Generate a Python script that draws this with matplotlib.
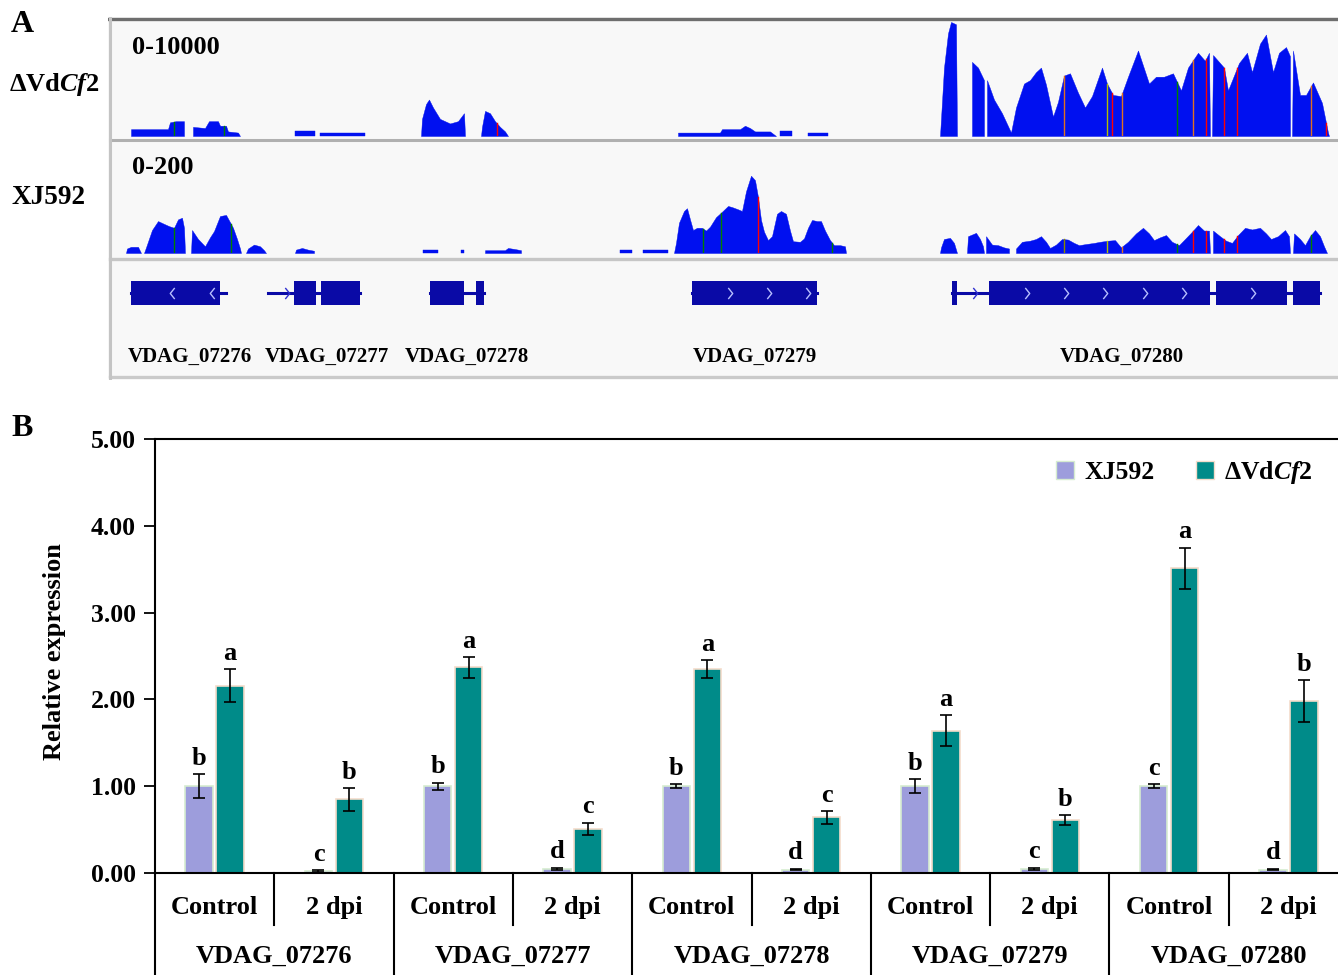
import numpy as np
import matplotlib
matplotlib.use("Agg")
import matplotlib.pyplot as plt
from matplotlib.patches import Rectangle, Patch

plt.rcParams['font.family'] = ['Liberation Serif', 'DejaVu Serif']
plt.rcParams['font.weight'] = 'bold'
plt.rcParams['mathtext.fontset'] = 'custom'
plt.rcParams['mathtext.rm'] = 'Liberation Serif:bold'
plt.rcParams['mathtext.it'] = 'Liberation Serif:italic:bold'
plt.rcParams['mathtext.bf'] = 'Liberation Serif:bold'

# =====================================================
# DATA - panel A (coverage, track units along the locus)
# =====================================================

# dVdCf2 coverage, scale 0-10000 : segments of (position, depth)
cov_dvcf2 = [
    [(131, 0), (131, 600), (168, 600), (170, 1200), (176, 1300), (184, 1300), (184, 0)],
    [(193, 0), (193, 800), (205, 700), (209, 1300), (218, 1300), (220, 900), (226, 900), (228, 400), (238, 300), (240, 0)],
    [(295, 0), (295, 400), (315, 400), (315, 0)],
    [(320, 0), (320, 300), (365, 300), (365, 0)],
    [(421, 0), (422, 1500), (426, 2800), (429, 3200), (433, 2500), (440, 1500), (450, 1100), (458, 1300), (464, 2000), (465, 0)],
    [(481, 0), (482, 800), (485, 2200), (490, 2000), (495, 1300), (500, 800), (505, 400), (508, 0)],
    [(678, 0), (678, 300), (720, 300), (722, 600), (740, 600), (745, 900), (750, 700), (755, 400), (770, 400), (776, 0)],
    [(780, 0), (780, 400), (792, 400), (792, 0)],
    [(808, 0), (808, 300), (828, 300), (828, 0)],
    [(940, 0), (944, 6000), (948, 9000), (951, 10000), (956, 9800), (957, 0)],
    [(972, 0), (972, 6500), (978, 6000), (984, 4900), (984, 0)],
    [(987, 0), (987, 4900), (994, 3200), (1002, 2000), (1011, 300), (1016, 2500), (1024, 4600), (1030, 4900),
     (1036, 5600), (1041, 6000), (1046, 4500), (1053, 1700), (1058, 3000), (1064, 5300), (1070, 5500),
     (1078, 3800), (1085, 2500), (1092, 3500), (1102, 6000), (1107, 4600), (1113, 3600), (1121, 3500),
     (1128, 5200), (1138, 7500), (1149, 4600), (1156, 5200), (1164, 5200), (1173, 5500), (1181, 4000),
     (1188, 6000), (1198, 7300), (1205, 6600), (1209, 7300), (1210, 0)],
    [(1212, 0), (1213, 7100), (1224, 6000), (1228, 4000), (1239, 6400), (1247, 7300), (1252, 5600),
     (1260, 8100), (1266, 8900), (1273, 5600), (1279, 7300), (1286, 7800), (1290, 7000), (1290, 0)],
    [(1292, 0), (1293, 7500), (1300, 3600), (1306, 3600), (1313, 4700), (1322, 2900), (1328, 300), (1329, 0)],
]

# XJ592 coverage, scale 0-200
cov_xj592 = [
    [(126, 0), (127, 8), (131, 11), (138, 11), (141, 0)],
    [(144, 0), (146, 10), (152, 41), (158, 57), (164, 52), (169, 48), (174, 45), (178, 60), (182, 63), (184, 45), (185, 0)],
    [(191, 0), (192, 41), (198, 25), (205, 12), (210, 28), (214, 39), (220, 66), (226, 68), (230, 55),
     (233, 45), (237, 25), (240, 8), (241, 0)],
    [(246, 0), (248, 8), (254, 15), (260, 12), (264, 5), (266, 0)],
    [(295, 0), (296, 6), (302, 9), (308, 6), (314, 4), (314, 0)],
    [(423, 0), (423, 5), (438, 5), (438, 0)],
    [(461, 0), (461, 5), (464, 5), (464, 0)],
    [(485, 0), (485, 5), (505, 5), (508, 9), (515, 7), (521, 5), (521, 0)],
    [(620, 0), (620, 5), (632, 5), (632, 0)],
    [(643, 0), (643, 5), (668, 5), (668, 0)],
    [(674, 0), (676, 18), (679, 54), (684, 75), (687, 80), (690, 60), (693, 41), (697, 45), (702, 45),
     (706, 40), (710, 47), (716, 64), (721, 72), (728, 84), (732, 82), (738, 78), (742, 75), (746, 110),
     (751, 138), (755, 130), (758, 100), (761, 59), (764, 38), (768, 23), (772, 30), (777, 70), (781, 75),
     (786, 70), (790, 40), (793, 21), (800, 20), (804, 26), (808, 45), (812, 59), (817, 57), (821, 57),
     (825, 40), (830, 23), (834, 14), (840, 14), (845, 12), (846, 0)],
    [(940, 0), (941, 10), (944, 25), (950, 27), (954, 18), (957, 0)],
    [(967, 0), (968, 30), (976, 36), (980, 25), (983, 12), (984, 0)],
    [(986, 0), (986, 30), (992, 15), (998, 14), (1004, 10), (1009, 8), (1009, 0)],
    [(1016, 0), (1016, 8), (1022, 20), (1030, 22), (1036, 25), (1041, 30), (1046, 20), (1050, 9), (1056, 15),
     (1062, 25), (1068, 24), (1074, 18), (1079, 14), (1086, 16), (1094, 18), (1100, 20), (1108, 22),
     (1115, 23), (1121, 10), (1128, 20), (1136, 35), (1143, 45), (1149, 35), (1154, 23), (1160, 28),
     (1166, 32), (1172, 20), (1179, 14), (1185, 25), (1192, 38), (1198, 50), (1204, 40), (1209, 40), (1210, 0)],
    [(1213, 0), (1213, 40), (1220, 30), (1226, 22), (1232, 18), (1238, 32), (1245, 45), (1252, 42),
     (1260, 45), (1266, 35), (1271, 25), (1278, 30), (1285, 41), (1289, 30), (1290, 0)],
    [(1293, 0), (1294, 35), (1300, 25), (1305, 14), (1310, 30), (1315, 41), (1320, 30), (1324, 12), (1327, 0)],
]

# mismatch positions (coloured ticks in the coverage)
snp_dvcf2 = [(174, 'green'), (224, 'green'), (497, 'red'), (1064, '#e07020'), (1107, '#b0c000'),
             (1112, 'red'), (1122, '#e07020'), (1177, 'green'), (1193, '#e07020'), (1206, 'red'),
             (1224, 'red'), (1237, 'red'), (1311, '#e07020'), (1326, 'red')]
snp_xj592 = [(174, 'green'), (231, 'green'), (703, 'green'), (721, 'green'), (758, 'red'), (832, 'green'),
             (1064, '#8a8a00'), (1107, '#b0c000'), (1122, '#e07020'), (1177, 'green'), (1193, 'red'),
             (1206, 'red'), (1224, 'red'), (1237, 'red'), (1311, 'green')]

# gene models
gene_names = ['VDAG_07276', 'VDAG_07277', 'VDAG_07278', 'VDAG_07279', 'VDAG_07280']
gene_spans = [(131, 226), (268, 360), (430, 484), (692, 817), (952, 1320)]
gene_exons = [[(131, 220)], [(294, 316), (321, 360)], [(430, 464), (476, 484)], [(692, 817)],
              [(952, 957), (989, 1210), (1216, 1287), (1293, 1320)]]
gene_strand = ['-', '+', '+', '+', '+']
gene_chevrons = [[172, 212], [287], [], [730, 769, 808], [975, 1027, 1066, 1105, 1145, 1184, 1253]]
gene_label_x = [190, 327, 467, 755, 1122]

# =====================================================
# DATA - panel B (qRT-PCR)
# =====================================================
genes = ['VDAG_07276', 'VDAG_07277', 'VDAG_07278', 'VDAG_07279', 'VDAG_07280']
conditions = ['Control', '2 dpi']
xj_mean = [1.00, 0.02, 1.00, 0.05, 1.00, 0.04, 1.00, 0.05, 1.00, 0.04]
xj_err = [0.14, 0.01, 0.04, 0.01, 0.02, 0.01, 0.08, 0.01, 0.02, 0.01]
dv_mean = [2.16, 0.85, 2.37, 0.51, 2.35, 0.64, 1.64, 0.61, 3.51, 1.98]
dv_err = [0.19, 0.13, 0.12, 0.07, 0.10, 0.07, 0.18, 0.06, 0.24, 0.24]
xj_letters = ['b', 'c', 'b', 'd', 'b', 'd', 'b', 'c', 'c', 'd']
dv_letters = ['a', 'b', 'a', 'c', 'a', 'c', 'a', 'b', 'a', 'b']

COV = '#0010f0'
GENE = '#0a0aa6'
XJ_COL = '#9d9ddc'
DV_COL = '#008b89'

W, H = 1338, 975
fig = plt.figure(figsize=(W / 100, H / 100), dpi=100)


def px_axes(x0, y0, x1, y1):
    return fig.add_axes([x0 / W, 1 - y1 / H, (x1 - x0) / W, (y1 - y0) / H])


def depth_at(segments, pos):
    for seg in segments:
        xs, ys = zip(*seg)
        if xs[0] <= pos <= xs[-1]:
            return np.interp(pos, xs, ys)
    return 0


# ---------------- panel A frame ----------------
bg = px_axes(108, 16, 1345, 380)
bg.set_xlim(108, 1345)
bg.set_ylim(380, 16)
bg.axis('off')
bg.add_patch(Rectangle((108, 17), 1240, 361, color='#f8f8f8', lw=0))
bg.plot([108, 1345], [18.5, 18.5], color='#6e6e6e', lw=2.4)
bg.plot([110, 1345], [139.5, 139.5], color='#b0b0b0', lw=2.2)
bg.plot([110, 1345], [258.5, 258.5], color='#c6c6c6', lw=2.4)
bg.plot([110, 1345], [377, 377], color='#cacaca', lw=2.4)
bg.plot([110, 110], [18, 378], color='#c4c4c4', lw=2.2)
bg.text(132, 47, '0-10000', fontsize=19, ha='left', va='center')
bg.text(132, 168, '0-200', fontsize=19, ha='left', va='center')

fig.text(9 / W, 1 - 84 / H, r'ΔVd$\mathit{Cf2}$', fontsize=19, ha='left', va='center')
fig.text(11 / W, 1 - 198 / H, 'XJ592', fontsize=19.5, ha='left', va='center')
fig.text(11 / W, 1 - 25 / H, 'A', fontsize=23, ha='left', va='center')
fig.text(11 / W, 1 - 429 / H, 'B', fontsize=23, ha='left', va='center')

# coverage tracks
for (y0, y1, ymax, segs, snps) in [(22, 136, 10000, cov_dvcf2, snp_dvcf2),
                                   (141, 253, 200, cov_xj592, snp_xj592)]:
    t = px_axes(108, y0, 1345, y1)
    t.set_xlim(108, 1345)
    t.set_ylim(0, ymax)
    t.axis('off')
    for seg in segs:
        xs, ys = zip(*seg)
        t.fill_between(xs, ys, 0, color=COV, lw=0.3)
    for pos, c in snps:
        t.plot([pos, pos], [0, depth_at(segs, pos)], color=c, lw=1.0)

# gene track
gt = px_axes(108, 260, 1345, 376)
gt.set_xlim(108, 1345)
gt.set_ylim(0, 1)
gt.axis('off')
yc, bh = 0.716, 0.207
for name, span, exons, strand, chev, lx in zip(gene_names, gene_spans, gene_exons,
                                                gene_strand, gene_chevrons, gene_label_x):
    gt.plot(span, [yc, yc], color=GENE, lw=2.2)
    for s, e in exons:
        gt.add_patch(Rectangle((s, yc - bh / 2), e - s, bh, color=GENE, lw=0))
    if strand == '+':
        mk = [(-0.4, -1), (0.4, 0), (-0.4, 1)]
    else:
        mk = [(0.4, -1), (-0.4, 0), (0.4, 1)]
    for c in chev:
        inside = any(s <= c <= e for s, e in exons)
        gt.plot([c], [yc], marker=mk, ms=8, mfc='none', ls='none',
                mec='#b8bfff' if inside else '#3030d0', mew=1.0)
    gt.text(lx, 0.165, name, fontsize=15, ha='center', va='center')

# ---------------- panel B ----------------
ax = px_axes(155, 439, 1348, 873)
x = np.arange(len(xj_mean)) + 0.5
width, off = 0.23, 0.13
ax.bar(x - off, xj_mean, width, yerr=xj_err, color=XJ_COL, edgecolor='#d6ecd0', lw=1.2,
       error_kw=dict(ecolor='black', elinewidth=1.2, capsize=4.5, capthick=1.2), label='XJ592')
ax.bar(x + off, dv_mean, width, yerr=dv_err, color=DV_COL, edgecolor='#f4dccb', lw=1.2,
       error_kw=dict(ecolor='black', elinewidth=1.2, capsize=4.5, capthick=1.2),
       label=r'ΔVd$\mathit{Cf2}$')
for i in range(len(x)):
    ax.text(x[i] - off, xj_mean[i] + xj_err[i] + 0.05, xj_letters[i], fontsize=19,
            ha='center', va='bottom')
    ax.text(x[i] + off, dv_mean[i] + dv_err[i] + 0.05, dv_letters[i], fontsize=19,
            ha='center', va='bottom')

ax.set_xlim(0, 10)
ax.set_ylim(0, 5)
ax.set_yticks(np.arange(0, 5.01, 1))
ax.set_yticklabels(['%.2f' % v for v in np.arange(0, 5.01, 1)], fontsize=18.5)
ax.set_xticks([])
ax.tick_params(axis='y', direction='out', length=8, width=1.3, pad=6)
ax.spines['right'].set_visible(False)
for s in ['left', 'bottom', 'top']:
    ax.spines[s].set_linewidth(1.5)
ax.patch.set_alpha(0)

# category table below the axis
for k in range(0, 11, 2):
    ax.plot([k, k], [0, -1.3], color='black', lw=1.5, clip_on=False)
for k in range(1, 10, 2):
    ax.plot([k, k], [0, -0.6], color='black', lw=1.5, clip_on=False)
for i in range(len(x)):
    ax.text(x[i], -0.40, conditions[i % 2], fontsize=19, ha='center', va='center')
for g, name in enumerate(genes):
    ax.text(2 * g + 1, -0.955, name, fontsize=19, ha='center', va='center')

fig.text(54 / W, 1 - 652 / H, 'Relative expression', rotation=90, fontsize=19,
         ha='center', va='center')

handles = [Patch(facecolor=XJ_COL, edgecolor='#d6ecd0'), Patch(facecolor=DV_COL, edgecolor='#f4dccb')]
ax.legend(handles, ['XJ592', r'ΔVd$\mathit{Cf2}$'], loc='upper right', ncol=2,
          bbox_to_anchor=(1313 / W, 1 - 459 / H), bbox_transform=fig.transFigure,
          frameon=False, fontsize=18.5, handlelength=0.7, handleheight=0.7,
          handletextpad=0.4, columnspacing=1.6, borderpad=0, borderaxespad=0)

fig.savefig('out.png', dpi=100)
